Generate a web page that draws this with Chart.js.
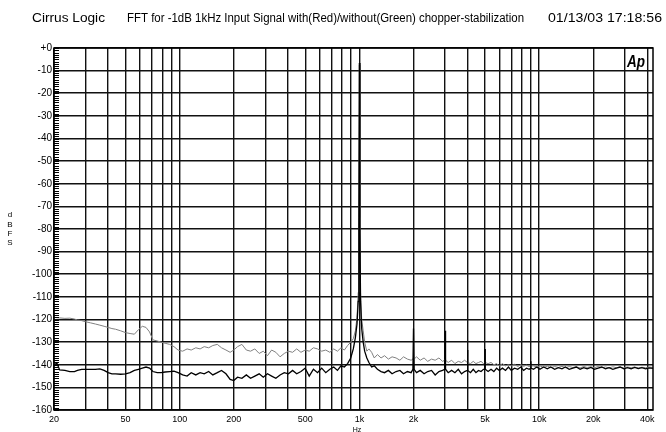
<!DOCTYPE html>
<html>
<head>
    <title>FFT chopper-stabilization</title>
    <meta charset="utf-8">
    <script src="https://cdn.jsdelivr.net/npm/chart.js@4.4.1/dist/chart.umd.min.js"></script>
    <style>
        body { margin: 0; background: #fff; }
        canvas { display: block; }
    </style>
</head>
<body>
<canvas id="fft_chart" width="666" height="432"></canvas>
<script>
    // frequencies (Hz) shared by both traces
    const freqs = [
        20, 20.8, 21.5, 23, 24.5, 26, 27, 28.5, 30, 32, 34, 36, 38, 40, 42, 44, 47, 50, 53, 56,
        59, 62, 65, 68, 71, 75, 79, 83, 88, 93, 98, 104, 110, 116, 123, 130, 137, 145, 153, 162,
        171, 181, 191, 200,
        210, 222, 235, 248, 262, 277, 292, 308, 325, 343, 362, 382, 403, 425, 448, 473, 499, 526, 555, 585,
        617, 650, 685, 720, 755, 790, 825, 860, 895, 925, 950, 970, 985, 993, 1000, 1007, 1015, 1030, 1050, 1070,
        1100, 1130, 1170, 1210, 1260, 1320,
        1380, 1450, 1520, 1600, 1680, 1760, 1850, 1940, 1985, 2000, 2015, 2080, 2180, 2290, 2400, 2520, 2640, 2770, 2900, 2985,
        3000, 3015, 3120, 3260, 3400, 3550, 3700, 3850, 3985, 4000, 4015, 4150, 4300, 4450, 4600, 4750, 4900, 4985, 5000, 5015,
        5200, 5400, 5600, 5800, 6000, 6250, 6500, 6750, 7000, 7300, 7600, 7900, 8200, 8500, 8800, 8985, 9000, 9015, 9300, 9700,
        10100, 10600, 11100, 11600, 12200, 12800, 13400, 14000, 14700, 15400, 16100, 16900, 17700, 18500, 19400, 20300, 21300, 22300, 23400, 24500,
        25700, 26900, 28200, 29600, 31000, 32500, 34000, 35600, 37300, 39100, 41000, 43000
    ];

    // dBFS, lower (dark) trace
    const with_chopper = [
        -139, -139.5, -142.3, -142.5, -143, -143, -142.5, -142, -142, -142, -142, -141.8, -142.5, -143.5, -144, -144, -144.2, -144, -143.5, -142.5,
        -142, -141.5, -141, -141.5, -143, -143.5, -143.5, -143.2, -143, -142.8, -143.5, -144.5, -145, -143.5, -144.5, -143.5, -144, -143, -144.5, -143.5,
        -142.5, -144, -146.5, -147,
        -145.5, -146, -144.5, -146, -145, -144, -145.5, -144, -145, -146, -144.5, -143.5, -144, -142.5, -144, -143, -141.5, -145, -142, -143.5,
        -141.5, -143.5, -142, -141, -142.5, -140.5, -141, -139.5, -137, -133, -128, -122, -112, -80, -6.6, -80, -112, -124, -130, -134,
        -137, -139, -141, -140.5, -142, -143,
        -143.5, -142.5, -144, -143, -142.5, -144, -143, -143.5, -142, -124, -142, -143.5, -142.5, -144, -143, -142.5, -144.5, -143, -142.5, -142,
        -125, -142, -143.5, -142.5, -143.5, -142, -144, -143, -142.5, -133.5, -142.5, -143.5, -142, -143.5, -142.5, -143, -142, -142, -133, -142,
        -143, -142, -143, -141.5, -142.5, -141.5, -142.5, -141, -142.5, -141.5, -142, -141, -142.5, -141.5, -142, -141.5, -138.5, -141.5, -142, -141,
        -142, -141, -141.8, -141, -142, -141.3, -141.8, -141, -142, -141.5, -141, -142, -141.3, -141.8, -141.2, -142, -141.5, -141, -141.8, -141.3,
        -142, -141.5, -141, -141.8, -141.3, -141.8, -141.2, -141.7, -141.3, -141.8, -141.4, -141.6
    ];

    // dBFS, upper (grey) trace
    const without_chopper = [
        -119, -119.2, -119.3, -119.5, -119.4, -119.8, -120.2, -120.5, -121, -121.5, -122, -122.5, -123, -123.5, -124, -124.3, -125, -125.8, -126.2, -126.5,
        -124.5, -123, -123.5, -125.5, -129, -129.5, -130, -130.5, -131, -132, -133.5, -134, -133, -133.5, -132.5, -133, -132, -132.5, -131.5, -131,
        -132.5, -133.5, -134.5, -133.5,
        -132, -131, -133.5, -134, -133, -135, -134, -136, -133.5, -134.5, -136.5, -135, -134, -134.5, -133, -134.5, -133.5, -134, -132.5, -133,
        -134, -133.5, -134.5, -133, -134, -132.5, -133.5, -131.5, -130, -128.5, -125, -119, -108, -75, -7.5, -75, -108, -120, -125, -130,
        -134, -133, -134.5, -137, -135.5, -137,
        -136, -137.5, -136.5, -137, -138, -136.5, -137.5, -138, -137.5, -137, -137.5, -136.5, -138, -137, -138.5, -137.5, -138, -137, -138.5, -138,
        -137.5, -138, -139, -138, -139.5, -138.5, -139, -138, -139, -138.5, -139, -139.5, -138.5, -139.5, -139, -138.5, -139.5, -139, -139, -139,
        -139.5, -139, -140, -139.5, -140.5, -139.5, -140.5, -140, -140.5, -139.8, -140.8, -140, -140.7, -140.2, -140.8, -140.5, -140.3, -140.5, -140.5, -141,
        -140.5, -141.2, -140.6, -141.3, -140.8, -141.2, -140.7, -141.3, -140.8, -141.2, -140.9, -141.4, -140.8, -141.2, -140.9, -141.3, -140.8, -141.3, -141, -141.4,
        -140.9, -141.3, -141, -141.4, -141, -141.3, -141, -141.4, -141.1, -141.3, -141, -141.2
    ];

    // vertical grid lines and which of them get a label
    const grid_freqs = [20, 30, 40, 50, 60, 70, 80, 90, 100, 200, 300, 400, 500, 600, 700, 800, 900,
        1000, 2000, 3000, 4000, 5000, 6000, 7000, 8000, 9000, 10000, 20000, 30000, 40000];
    const x_tick_values = [20, 50, 100, 200, 500, 1000, 2000, 5000, 10000, 20000, 40000];
    const x_tick_labels = ['20', '50', '100', '200', '500', '1k', '2k', '5k', '10k', '20k', '40k'];

    const font_name = '"Liberation Sans", Arial, sans-serif';

    function fit_text(ctx, str, x, y, w) {
        let m = ctx.measureText(str).width;
        ctx.save();
        ctx.translate(x, y);
        ctx.scale(w / m, 1);
        ctx.fillText(str, 0, 0);
        ctx.restore();
    }

    const decorations = {
        id: 'decorations',
        afterDraw(chart) {
            let ctx = chart.ctx;
            let area = chart.chartArea;
            let ys = chart.scales.y;
            ctx.save();
            ctx.fillStyle = '#000';
            ctx.strokeStyle = '#000';

            // minor dB ticks on the inside of the left axis
            ctx.lineWidth = 1;
            ctx.beginPath();
            for (let v = -160; v <= 0; v++) {
                let py = Math.round(ys.getPixelForValue(v)) + 0.5;
                ctx.moveTo(area.left, py);
                ctx.lineTo(area.left + 5, py);
            }
            ctx.stroke();

            // frame
            ctx.lineWidth = 1.5;
            ctx.strokeRect(area.left, area.top, area.right - area.left, area.bottom - area.top);

            // header
            ctx.font = '12px ' + font_name;
            ctx.textBaseline = 'alphabetic';
            ctx.textAlign = 'left';
            fit_text(ctx, 'Cirrus Logic', 32, 22, 73);
            fit_text(ctx, 'FFT for -1dB 1kHz Input Signal with(Red)/without(Green) chopper-stabilization', 127, 22, 397);
            fit_text(ctx, '01/13/03 17:18:56', 548, 22, 114);

            // y axis title, stacked letters
            ctx.font = '8px ' + font_name;
            ctx.textAlign = 'center';
            ctx.textBaseline = 'middle';
            ['d', 'B', 'F', 'S'].forEach((c, i) => ctx.fillText(c, 10, 215 + i * 9.3));

            // x axis title
            ctx.font = '7px ' + font_name;
            ctx.fillText('Hz', 357, 430);

            // Ap logo
            ctx.font = 'italic bold 17px ' + font_name;
            ctx.textAlign = 'left';
            ctx.textBaseline = 'alphabetic';
            fit_text(ctx, 'Ap', 627, 67, 18);
            ctx.restore();
        }
    };

    let chart = new Chart('fft_chart', {
        type: 'scatter',
        data: {
            datasets: [
                {
                    label: 'with chopper',
                    data: freqs.map((f, i) => ({x: f, y: with_chopper[i]})),
                    showLine: true,
                    borderColor: '#000',
                    borderWidth: 1.3,
                    pointRadius: 0,
                    tension: 0
                },
                {
                    label: 'without chopper',
                    data: freqs.map((f, i) => ({x: f, y: without_chopper[i]})),
                    showLine: true,
                    borderColor: '#808080',
                    borderWidth: 1,
                    pointRadius: 0,
                    tension: 0
                }
            ]
        },
        options: {
            responsive: false,
            animation: false,
            devicePixelRatio: 1,
            layout: {padding: {left: 0, right: 13, top: 48, bottom: 0}},
            plugins: {legend: {display: false}, tooltip: {enabled: false}},
            scales: {
                x: {
                    type: 'logarithmic',
                    min: 20,
                    max: 43000,
                    afterBuildTicks: s => { s.ticks = grid_freqs.map(v => ({value: v})); },
                    afterFit: s => { s.height = 22; },
                    grid: {color: '#111', lineWidth: 1.4, drawTicks: false},
                    border: {display: false},
                    ticks: {
                        autoSkip: false,
                        maxRotation: 0,
                        padding: 4,
                        color: '#000',
                        font: {family: font_name, size: 9},
                        callback: v => {
                            let i = x_tick_values.indexOf(v);
                            return i >= 0 ? x_tick_labels[i] : '';
                        }
                    }
                },
                y: {
                    type: 'linear',
                    min: -160,
                    max: 0,
                    afterFit: s => { s.width = 54; },
                    grid: {color: '#111', lineWidth: 1.6, drawTicks: false},
                    border: {display: false},
                    ticks: {
                        stepSize: 10,
                        padding: 2,
                        color: '#000',
                        font: {family: font_name, size: 10},
                        callback: v => v === 0 ? '+0' : String(v)
                    }
                }
            }
        },
        plugins: [decorations]
    });
</script>
</body>
</html>
